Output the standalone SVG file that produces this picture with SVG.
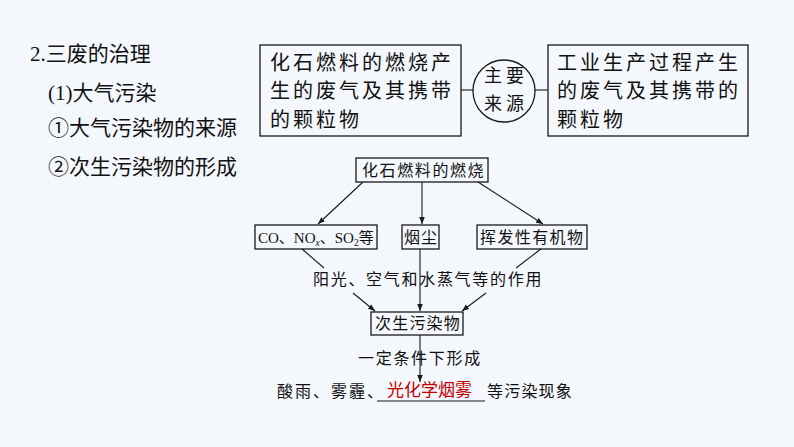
<svg xmlns="http://www.w3.org/2000/svg" width="794" height="447" viewBox="0 0 794 447">
<style>
.bg{fill:#f4f7fc}
.box{fill:none;stroke:#1a1a1a;stroke-width:1.3}
.ln{stroke:#1a1a1a;stroke-width:1.1;fill:none}
.h{font-family:"Liberation Serif","Noto Sans CJK SC",sans-serif;font-size:21px;fill:#111}
.t20{font-family:"Liberation Serif","Noto Sans CJK SC",serif;font-size:20px;fill:#111;letter-spacing:3px}
.t16{font-family:"Liberation Serif","Noto Sans CJK SC",serif;font-size:16px;fill:#111;letter-spacing:1.6px}
.red{font-family:"Noto Sans CJK SC",sans-serif;font-size:17px;fill:#c00000}
</style>
<defs>
<marker id="ah" viewBox="0 0 10 10" refX="10" refY="5" markerWidth="7" markerHeight="7" markerUnits="userSpaceOnUse" orient="auto">
<path d="M0,1 L10,5 L0,9 Z" fill="#1a1a1a"/>
</marker>
</defs>
<rect class="bg" x="0" y="0" width="794" height="447"/>
<g id="heading">
<text class="h" x="30" y="61">2.三废的治理</text>
<text class="h" x="48" y="100">(1)大气污染</text>
<text class="h" x="48" y="135">①大气污染物的来源</text>
<text class="h" x="48" y="174">②次生污染物的形成</text>
</g>
<g id="connectors">
<line class="ln" x1="461" y1="90" x2="473" y2="90"/>
<line class="ln" x1="535" y1="90" x2="548" y2="90"/>
<line class="ln" x1="363" y1="182" x2="318" y2="224" marker-end="url(#ah)"/>
<line class="ln" x1="422" y1="182" x2="422" y2="224" marker-end="url(#ah)"/>
<line class="ln" x1="478" y1="182" x2="543" y2="224" marker-end="url(#ah)"/>
<line class="ln" x1="302" y1="249" x2="324" y2="268"/>
<line class="ln" x1="353" y1="293" x2="375" y2="311" marker-end="url(#ah)"/>
<line class="ln" x1="420" y1="249" x2="420" y2="311" marker-end="url(#ah)"/>
<line class="ln" x1="541" y1="249" x2="516" y2="268"/>
<line class="ln" x1="486" y1="293" x2="462" y2="311" marker-end="url(#ah)"/>
<line class="ln" x1="420" y1="335" x2="420" y2="382" marker-end="url(#ah)"/>
</g>
<g id="src-fossil">
<rect class="box" x="260" y="45" width="201" height="91"/>
<text class="t20" x="270" y="70">化石燃料的燃烧产</text>
<text class="t20" x="270" y="98">生的废气及其携带</text>
<text class="t20" x="270" y="127">的颗粒物</text>
</g>
<g id="main-source">
<circle class="box" cx="504" cy="91" r="31"/>
<text class="t20" x="484" y="82" style="font-size:18px;letter-spacing:4px">主要</text>
<text class="t20" x="484" y="110" style="font-size:18px;letter-spacing:4px">来源</text>
</g>
<g id="src-industry">
<rect class="box" x="548" y="45" width="200" height="91"/>
<text class="t20" x="557" y="70">工业生产过程产生</text>
<text class="t20" x="557" y="98">的废气及其携带的</text>
<text class="t20" x="557" y="127">颗粒物</text>
</g>
<g id="combustion">
<rect class="box" x="356" y="158" width="132" height="24"/>
<text class="t16" x="362" y="176">化石燃料的燃烧</text>
</g>
<g id="gases">
<rect class="box" x="255" y="225" width="122" height="24"/>
<text class="t16" x="258" y="243" style="letter-spacing:0;font-size:15px">CO、NO<tspan font-size="9.5" dy="3" font-style="italic">x</tspan><tspan dy="-3">、SO</tspan><tspan font-size="9.5" dy="3">2</tspan><tspan dy="-3">等</tspan></text>
</g>
<g id="dust">
<rect class="box" x="402" y="225" width="37" height="24"/>
<text class="t16" x="404" y="243" style="letter-spacing:1px">烟尘</text>
</g>
<g id="voc">
<rect class="box" x="477" y="225" width="110" height="24"/>
<text class="t16" x="480" y="243" style="letter-spacing:1.4px">挥发性有机物</text>
</g>
<g id="label-sun">
<text class="t16" x="313" y="285" style="letter-spacing:1.7px">阳光、空气和水蒸气等的作用</text>
</g>
<g id="secondary">
<rect class="box" x="371" y="312" width="92" height="23"/>
<text class="t16" x="375" y="329" style="letter-spacing:1.2px">次生污染物</text>
</g>
<g id="label-cond">
<text class="t16" x="358" y="364" style="letter-spacing:1.7px">一定条件下形成</text>
</g>
<g id="result">
<text class="t16" x="277" y="397" style="letter-spacing:2px">酸雨、雾霾、</text>
<line class="ln" x1="377" y1="401" x2="485" y2="401"/>
<text class="red" x="387" y="396">光化学烟雾</text>
<text class="t16" x="487" y="397" style="letter-spacing:1.2px">等污染现象</text>
</g>
</svg>
